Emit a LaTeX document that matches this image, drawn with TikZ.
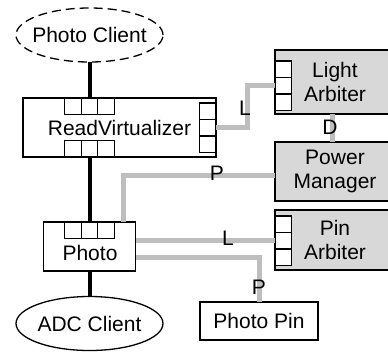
\documentclass[tikz,border=0pt]{standalone}
\usepackage{fontspec}
\setmainfont{Liberation Sans}
\usetikzlibrary{shapes.geometric}
\definecolor{linegray}{RGB}{190,190,190}
\definecolor{boxgray}{RGB}{216,216,216}
\begin{document}
\begin{tikzpicture}[x=1pt,y=-1pt,
  every node/.style={font=\fontsize{21}{24}\selectfont, inner sep=0pt, outer sep=0pt},
  box/.style={draw, line width=1.3pt, fill=white},
  graybox/.style={draw, line width=1.3pt, fill=boxgray, align=center, minimum width=120pt},
  port/.style={draw, line width=1.3pt, fill=white, minimum width=16.5pt, minimum height=16.5pt},
  ell/.style={ellipse, draw, line width=1.3pt, minimum width=147pt, minimum height=54pt},
  wire/.style={line width=4pt},
  gwire/.style={line width=5pt, draw=linegray},
  lab/.style={text=black}
]
\useasboundingbox (0,0) rectangle (388,351);
\clip (0,0) rectangle (388,351);

% Photo Client
\node[ell, dash pattern=on 9pt off 5pt] (pc) at (89.5,35) {};
\node (pct) at (pc.center) {Photo Client};

% ReadVirtualizer
\node[box, minimum width=193pt, minimum height=59pt] (rv) at (119.5,127.5) {ReadVirtualizer};
\node[port] (rvt1) at (73,106.25) {};
\node[port] (rvt2) at (89.5,106.25) {};
\node[port] (rvt3) at (106,106.25) {};
\node[port] (rvb1) at (73,148.75) {};
\node[port] (rvb2) at (89.5,148.75) {};
\node[port] (rvb3) at (106,148.75) {};
\node[port] (rvr1) at (207.75,111.25) {};
\node[port] (rvr2) at (207.75,127.75) {};
\node[port] (rvr3) at (207.75,144.25) {};

% Light Arbiter
\node[graybox, minimum height=64pt] (la) at (335,82) {Light\\Arbiter};
\node[port] (lap1) at (283.25,69.25) {};
\node[port] (lap2) at (283.25,85.75) {};
\node[port] (lap3) at (283.25,102.25) {};

% Power Manager
\node[graybox, minimum height=59pt] (pm) at (335,171.5) {Power\\Manager};

% Pin Arbiter
\node[graybox, minimum height=60pt] (pa) at (335,240) {Pin\\Arbiter};
\node[port] (pap1) at (283.25,224.25) {};
\node[port] (pap2) at (283.25,240.75) {};
\node[port] (pap3) at (283.25,257.25) {};

% Photo
\node[box, minimum width=92pt, minimum height=49pt] (ph) at (89.5,246.5) {};
\node (pht) at (90,253) {Photo};
\node[port] (pt1) at (73,230.25) {};
\node[port] (pt2) at (89.5,230.25) {};
\node[port] (pt3) at (106,230.25) {};

% ADC Client
\node[ell] (adc) at (89.5,323.5) {};
\node (adct) at (adc.center) {ADC Client};

% Photo Pin
\node[box, minimum width=118pt, minimum height=38pt] (pp) at (259,321) {Photo Pin};

% thick black wires
\draw[wire] (pc.south) -- (rvt2.north);
\draw[wire] (rvb2.south) -- (pt2.north);
\draw[wire] (ph.south) -- (adc.north);

% gray wires
\coordinate (lbend) at (247,100);
\draw[gwire] (rvr2.east) -- (rvr2.east -| lbend) -- (lap2.west -| lbend) -- (lap2.west);
\coordinate (dx) at (332,128);
\draw[gwire] (la.south -| dx) -- (pm.north -| dx);
\coordinate (pbend) at (123,175);
\draw[gwire] (ph.north -| pbend) -- (pbend) -- (pm.west |- pbend);
\draw[gwire] (ph.east |- pap2.west) -- (pap2.west);
\coordinate (p2bend) at (259,257);
\draw[gwire] (ph.east |- p2bend) -- (p2bend) -- (pp.north);

% labels
\node[lab] (ll1) at (245,108) {L};
\node[lab] (ld) at (330,127) {D};
\node[lab] (lp1) at (217,173) {P};
\node[lab] (ll2) at (228,238) {L};
\node[lab] (lp2) at (259,287) {P};
\end{tikzpicture}
\end{document}
